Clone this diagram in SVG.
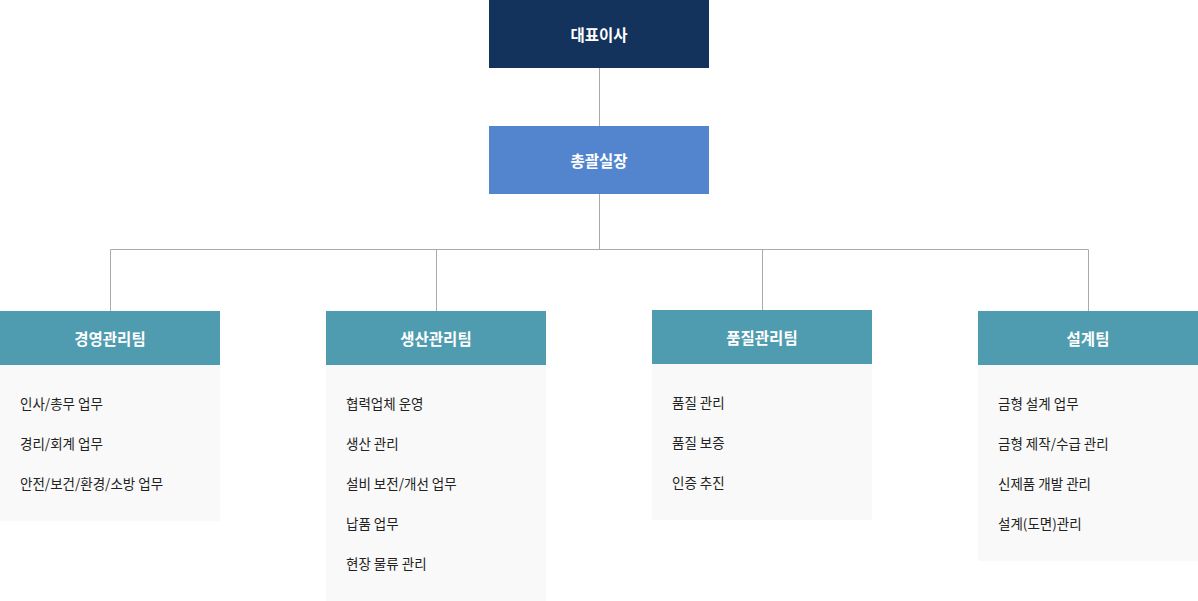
<svg xmlns="http://www.w3.org/2000/svg" width="1198" height="601" viewBox="0 0 1198 601">
<style>
.t{font-family:"Noto Sans CJK KR","Noto Sans",sans-serif;}
.h{font-size:15.5px;font-weight:bold;fill:#fff;text-anchor:middle;dominant-baseline:central;}
.i{font-size:13.5px;fill:#222;dominant-baseline:central;}
.hd{fill:#4f9cb0;}
.bd{fill:#f9f9f9;}
.c{stroke:#aaaaaa;stroke-width:1;fill:none;}
</style>
<rect width="1198" height="601" fill="#fff"/>
<g id="connectors">
<path class="c" d="M599.5 68V126M599.5 194V249.5M110.5 249.5H1088.5M110.5 249.5V311M436.5 249.5V311M762.5 249.5V310M1088.5 249.5V311"/>
</g>
<g id="ceo" class="t">
<rect x="489" y="0" width="220" height="68" fill="#13325c"/>
<text class="h" x="599" y="34">대표이사</text>
</g>
<g id="gm" class="t">
<rect x="489" y="126" width="220" height="68" fill="#5385ce"/>
<text class="h" x="599" y="160">총괄실장</text>
</g>
<g id="team1" class="t">
<rect class="bd" x="0" y="365" width="220" height="156"/>
<rect class="hd" x="0" y="311" width="220" height="54"/>
<text class="h" x="110" y="338">경영관리팀</text>
<text class="i" x="20" y="402.5">인사/총무 업무</text>
<text class="i" x="20" y="442.5">경리/회계 업무</text>
<text class="i" x="20" y="482.5">안전/보건/환경/소방 업무</text>
</g>
<g id="team2" class="t">
<rect class="bd" x="326" y="365" width="220" height="236"/>
<rect class="hd" x="326" y="311" width="220" height="54"/>
<text class="h" x="436" y="338">생산관리팀</text>
<text class="i" x="346" y="402.5">협력업체 운영</text>
<text class="i" x="346" y="442.5">생산 관리</text>
<text class="i" x="346" y="482.5">설비 보전/개선 업무</text>
<text class="i" x="346" y="522.5">납품 업무</text>
<text class="i" x="346" y="562.5">현장 물류 관리</text>
</g>
<g id="team3" class="t">
<rect class="bd" x="652" y="364" width="220" height="156"/>
<rect class="hd" x="652" y="310" width="220" height="54"/>
<text class="h" x="762" y="337">품질관리팀</text>
<text class="i" x="672" y="401.5">품질 관리</text>
<text class="i" x="672" y="441.5">품질 보증</text>
<text class="i" x="672" y="481.5">인증 추진</text>
</g>
<g id="team4" class="t">
<rect class="bd" x="978" y="365" width="220" height="196"/>
<rect class="hd" x="978" y="311" width="220" height="54"/>
<text class="h" x="1088" y="338">설계팀</text>
<text class="i" x="998" y="402.5">금형 설계 업무</text>
<text class="i" x="998" y="442.5">금형 제작/수급 관리</text>
<text class="i" x="998" y="482.5">신제품 개발 관리</text>
<text class="i" x="998" y="522.5">설계(도면)관리</text>
</g>
</svg>
